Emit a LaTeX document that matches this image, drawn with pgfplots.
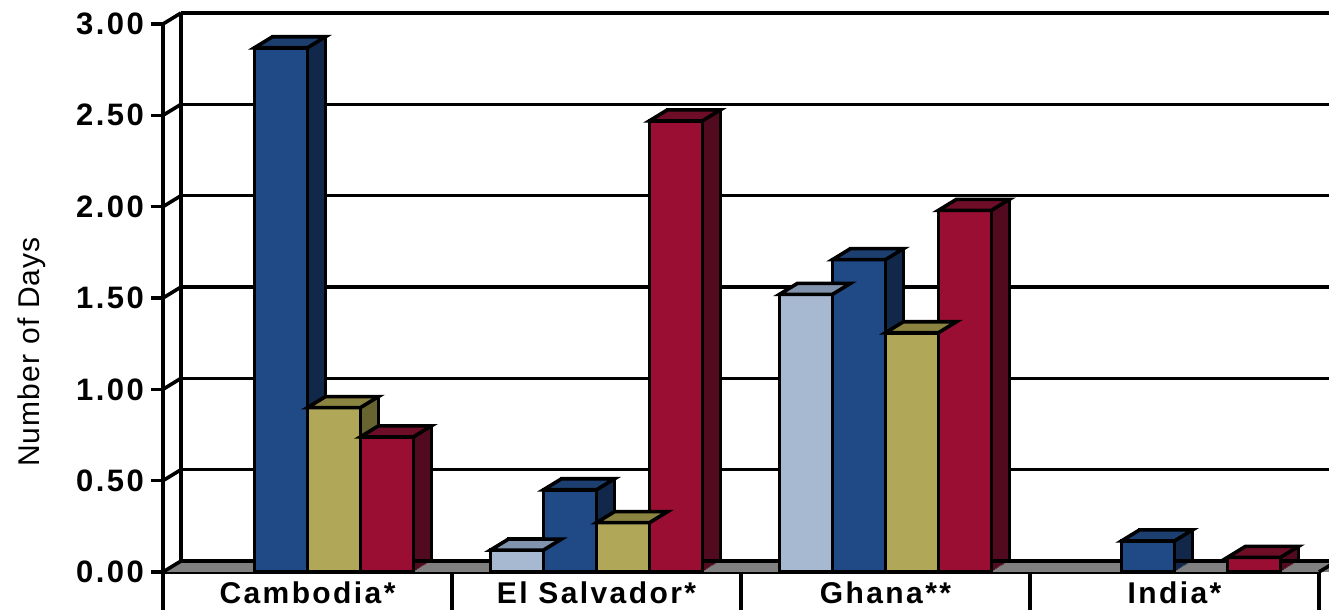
\documentclass[border=0pt]{standalone}
\usepackage{pgfplots}
\pgfplotsset{compat=1.18}
\usepackage{fontspec}
\setmainfont{Liberation Sans}
\newfontfamily\labfont[LetterSpace=8]{Liberation Sans}
\newfontfamily\ylabfont[LetterSpace=4]{Liberation Sans}

\definecolor{lightfront}{HTML}{A7B9D1}
\definecolor{lighttop}{HTML}{8193AD}
\definecolor{lightside}{HTML}{5F6F86}
\definecolor{bluefront}{HTML}{1F4A86}
\definecolor{bluetop}{HTML}{1C3F70}
\definecolor{blueside}{HTML}{11284A}
\definecolor{olivefront}{HTML}{B0A858}
\definecolor{olivetop}{HTML}{8B8440}
\definecolor{oliveside}{HTML}{68642F}
\definecolor{redfront}{HTML}{9A0E33}
\definecolor{redtop}{HTML}{6E0D28}
\definecolor{redside}{HTML}{520A1E}
\definecolor{floorgray}{HTML}{808080}

% top face of a bar (bar width 26.5pt, depth 9pt x 5.5pt)
\pgfdeclareplotmark{topface}{%
  \pgfpathmoveto{\pgfpoint{-13.25pt}{0pt}}%
  \pgfpathlineto{\pgfpoint{13.25pt}{0pt}}%
  \pgfpathlineto{\pgfpoint{22.25pt}{5.5pt}}%
  \pgfpathlineto{\pgfpoint{-4.25pt}{5.5pt}}%
  \pgfpathclose
  \pgfusepathqfillstroke}

% #1 bar shift, #2 front, #3 top, #4 side, #5 coordinates
\newcommand{\cuboids}[5]{%
  \pgfplotsinvokeforeach{0.1,0.2,0.3,0.4,0.5,0.6,0.7,0.8,0.9}{%
    \addplot[ybar, bar width=26.5pt, bar shift=#1, fill=#4, draw=none,
      xshift=##1*9pt, yshift=##1*5.5pt] coordinates {#5};}
  \addplot[ybar, bar width=26.5pt, bar shift=#1, fill=#4, draw=black,
    line width=1.8pt, xshift=9pt, yshift=5.5pt] coordinates {#5};
  \addplot[ybar, bar width=26.5pt, bar shift=#1, fill=#2, draw=black,
    line width=1.8pt] coordinates {#5};
  \addplot[only marks, mark=topface, xshift=#1,
    mark options={fill=#3, draw=black, line width=1.8pt}] coordinates {#5};
}

\begin{document}
\begin{tikzpicture}
\begin{axis}[
  at={(0pt,0pt)}, anchor=south west,
  scale only axis, width=578pt, height=274pt,
  xmin=-0.5, xmax=3.5, ymin=0, ymax=3,
  clip=false,
  axis lines*=left,
  axis line style={line width=2pt, black},
  xtick={0,1,2,3},
  xticklabels={Cambodia*, El Salvador*, Ghana**, India*},
  x tick style={draw=none},
  xticklabel style={font={\labfont\bfseries\fontsize{15pt}{17pt}\selectfont},
    anchor=base, yshift=-10pt},
  ytick={0,0.5,1,1.5,2,2.5,3},
  minor tick num=0,
  tick align=outside,
  major tick length=6pt,
  y tick style={line width=1.8pt, black},
  yticklabel style={font={\labfont\bfseries\fontsize{15.5pt}{17pt}\selectfont},
    /pgf/number format/.cd, fixed, fixed zerofill, precision=2,
    assume math mode=true},
  ylabel={Number of Days},
  every axis y label/.style={at={(axis description cs:-0.1133,0.4015)},
    rotate=90, anchor=center,
    font={\ylabfont\fontsize{15pt}{17pt}\selectfont}},
]
% floor
\fill[floorgray] (axis cs:-0.5,0) -- ([shift={(9pt,5.5pt)}]axis cs:-0.5,0)
  -- ([shift={(9pt,5.5pt)}]axis cs:3.6,0) -- (axis cs:3.6,0) -- cycle;
% back wall grid and left wall
\pgfplotsinvokeforeach{0,0.5,1,1.5,2,2.5,3}{%
  \draw[line width=1.8pt] ([shift={(9pt,5.5pt)}]axis cs:-0.5,#1) -- ([shift={(9pt,5.5pt)}]axis cs:3.6,#1);
  \draw[line width=1.8pt] (axis cs:-0.5,#1) -- ([shift={(9pt,5.5pt)}]axis cs:-0.5,#1);
}
\draw[line width=2pt] ([shift={(9pt,5.5pt)}]axis cs:-0.5,0) -- ([shift={(9pt,5.5pt)}]axis cs:-0.5,3);

\cuboids{-39.75pt}{lightfront}{lighttop}{lightside}{(1,0.12) (2,1.52)}
\cuboids{-13.25pt}{bluefront}{bluetop}{blueside}{(0,2.87) (1,0.45) (2,1.71) (3,0.17)}
\cuboids{13.25pt}{olivefront}{olivetop}{oliveside}{(0,0.90) (1,0.27) (2,1.31)}
\cuboids{39.75pt}{redfront}{redtop}{redside}{(0,0.74) (1,2.47) (2,1.98) (3,0.08)}

% category table
\pgfplotsinvokeforeach{-0.5,0.5,1.5,2.5,3.5}{%
  \draw[line width=2pt] (axis cs:#1,0) -- ++(0pt,-30pt);
}
\draw[line width=1.8pt] (axis cs:3.5,0) -- ++(9pt,5.5pt);
\end{axis}
\pgfresetboundingbox
\useasboundingbox (-81.5pt,-19pt) rectangle (583pt,286pt);
\end{tikzpicture}
\end{document}
